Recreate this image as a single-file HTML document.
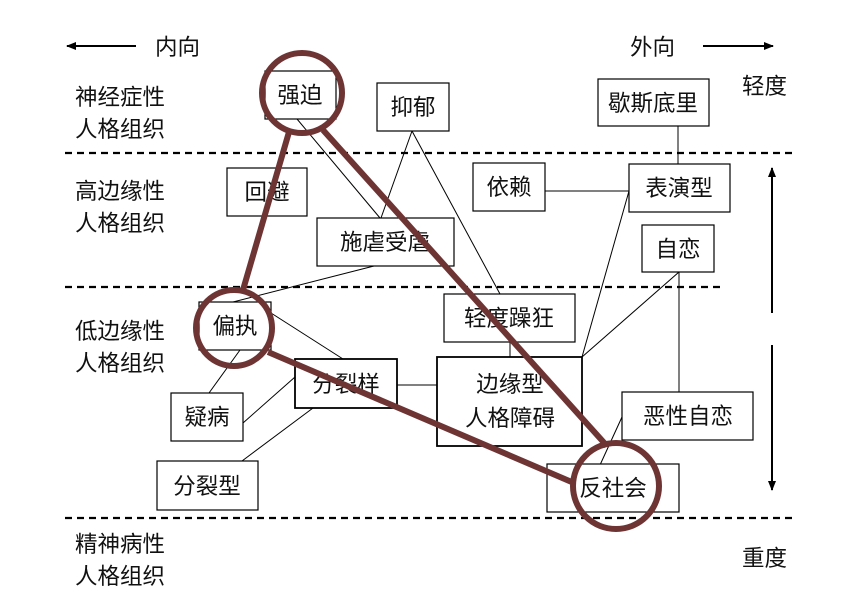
<!DOCTYPE html>
<html><head><meta charset="utf-8"><style>
html,body{margin:0;padding:0;background:#fff;}
svg{display:block;}
text{font-family:"Liberation Sans","Noto Sans CJK SC",sans-serif;fill:#111;}
</style></head><body>
<svg width="845" height="607" viewBox="0 0 845 607" xmlns="http://www.w3.org/2000/svg">
<defs>
<marker id="ah" markerWidth="10" markerHeight="8" refX="9" refY="4" orient="auto" markerUnits="userSpaceOnUse">
<path d="M0,0 L10,4 L0,8 Z" fill="#000"/></marker>
</defs>
<g stroke="#000" stroke-width="2.2" stroke-dasharray="7,5">
<line x1="65" y1="153" x2="793" y2="153"/>
<line x1="65" y1="287" x2="723" y2="287"/>
<line x1="65" y1="518" x2="793" y2="518"/>
</g>
<g stroke="#000" stroke-width="2">
<line x1="136" y1="46" x2="67" y2="46" marker-end="url(#ah)"/>
<line x1="703" y1="46" x2="773" y2="46" marker-end="url(#ah)"/>
<line x1="772" y1="313" x2="772" y2="168" marker-end="url(#ah)"/>
<line x1="772" y1="345" x2="772" y2="490" marker-end="url(#ah)"/>
</g>
<g font-size="22.5">
<text x="155" y="55">内向</text>
<text x="630" y="55">外向</text>
<text x="742" y="94">轻度</text>
<text x="742" y="566">重度</text>
<text x="75" y="105">神经症性</text><text x="75" y="137">人格组织</text>
<text x="75" y="199">高边缘性</text><text x="75" y="231">人格组织</text>
<text x="75" y="339">低边缘性</text><text x="75" y="371">人格组织</text>
<text x="75" y="552">精神病性</text><text x="75" y="584">人格组织</text>
</g>
<g stroke="#000" stroke-width="1" fill="none">
<line x1="297" y1="119" x2="380" y2="218"/>
<line x1="412" y1="131" x2="381" y2="218"/>
<line x1="412" y1="131" x2="500" y2="294"/>
<line x1="374" y1="266" x2="233" y2="302"/>
<line x1="545" y1="191" x2="629" y2="191"/>
<line x1="678" y1="126" x2="678" y2="164"/>
<line x1="629" y1="191" x2="582" y2="357"/>
<line x1="679" y1="272" x2="582" y2="357"/>
<line x1="679" y1="272" x2="679" y2="392"/>
<line x1="271" y1="313" x2="343" y2="359"/>
<line x1="240" y1="350" x2="209" y2="393"/>
<line x1="243" y1="423" x2="295" y2="377"/>
<line x1="313" y1="408" x2="242" y2="461"/>
<line x1="397" y1="385" x2="438" y2="385"/>
<line x1="510" y1="342" x2="510" y2="357"/>
<line x1="622" y1="417" x2="600" y2="465"/>
</g>
<g stroke="#000" stroke-width="1.2" fill="#fff">
<rect x="265" y="71" width="71" height="48"/>
<rect x="377" y="83" width="72" height="48"/>
<rect x="227" y="168" width="80" height="48"/>
<rect x="317" y="218" width="137" height="48"/>
<rect x="473" y="163" width="72" height="48"/>
<rect x="598" y="79" width="111" height="47"/>
<rect x="629" y="164" width="101" height="48"/>
<rect x="642" y="225" width="72" height="47"/>
<rect x="444" y="294" width="131" height="48"/>
<rect x="199" y="302" width="72" height="48"/>
<rect x="295" y="359" width="102" height="49" stroke-width="1.8"/>
<rect x="437" y="357" width="145" height="89" stroke-width="1.8"/>
<rect x="171" y="393" width="72" height="48"/>
<rect x="157" y="461" width="101" height="49"/>
<rect x="622" y="392" width="131" height="48"/>
<rect x="547" y="464" width="132" height="48"/>
</g>
<g font-size="22.5" text-anchor="middle">
<text x="300" y="103">强迫</text>
<text x="413" y="115">抑郁</text>
<text x="267" y="200">回避</text>
<text x="385" y="250">施虐受虐</text>
<text x="509" y="195">依赖</text>
<text x="653" y="111">歇斯底里</text>
<text x="679" y="196">表演型</text>
<text x="678" y="257">自恋</text>
<text x="509" y="326">轻度躁狂</text>
<text x="235" y="334">偏执</text>
<text x="346" y="392">分裂样</text>
<text x="510" y="392">边缘型</text>
<text x="510" y="426">人格障碍</text>
<text x="207" y="425">疑病</text>
<text x="207" y="494">分裂型</text>
<text x="688" y="424">恶性自恋</text>
<text x="613" y="496">反社会</text>
</g>
<g stroke="#6e3434" stroke-width="6" fill="none">
<line x1="289" y1="132" x2="243" y2="290"/>
<line x1="323" y1="130" x2="607" y2="446"/>
<line x1="268" y1="352" x2="574" y2="483"/>
<circle cx="302" cy="93" r="40"/>
<circle cx="234" cy="328" r="38"/>
<circle cx="616" cy="486" r="43"/>
</g>
</svg>
</body></html>
